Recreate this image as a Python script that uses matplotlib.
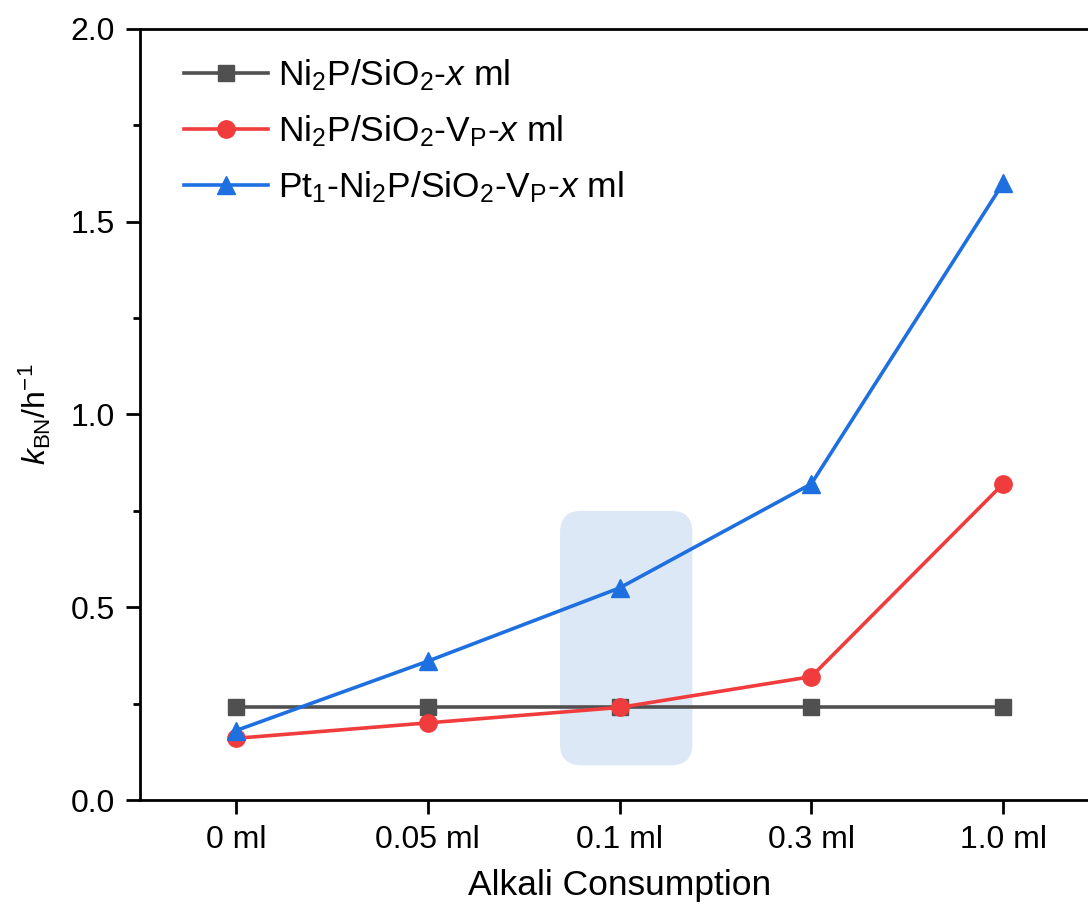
import numpy as np
import matplotlib
matplotlib.use('Agg')
import matplotlib.pyplot as plt
from matplotlib.patches import FancyBboxPatch
from matplotlib.ticker import MultipleLocator, FormatStrFormatter

# data
categories = ['0 ml', '0.05 ml', '0.1 ml', '0.3 ml', '1.0 ml']
k_ni2p = [0.24, 0.24, 0.24, 0.24, 0.24]
k_ni2p_vp = [0.16, 0.20, 0.24, 0.32, 0.82]
k_pt1_vp = [0.18, 0.36, 0.55, 0.82, 1.60]
labels = [r'Ni$_2$P/SiO$_2$-$x$ ml',
          r'Ni$_2$P/SiO$_2$-V$_\mathrm{P}$-$x$ ml',
          r'Pt$_1$-Ni$_2$P/SiO$_2$-V$_\mathrm{P}$-$x$ ml']

plt.rcParams['font.family'] = ['Liberation Sans', 'DejaVu Sans']
plt.rcParams['mathtext.fontset'] = 'custom'
plt.rcParams['mathtext.rm'] = 'Liberation Sans'
plt.rcParams['mathtext.it'] = 'Liberation Sans:italic'
plt.rcParams['mathtext.bf'] = 'Liberation Sans:bold'

fig = plt.figure(figsize=(10.88, 9.17), dpi=100)
ax = fig.add_axes([140 / 1088, 117 / 917, 959 / 1088, 771 / 917])

x = np.arange(len(categories))

# highlight box around 0.1 ml
box = FancyBboxPatch((1.69, 0.09), 0.69, 0.66,
                     boxstyle='round,pad=0,rounding_size=0.11',
                     mutation_aspect=0.5, facecolor='#dce8f5',
                     edgecolor='none', zorder=1)
ax.add_patch(box)

ax.plot(x, k_ni2p, color='#505050', marker='s', markersize=11, lw=2.6,
        label=labels[0], zorder=3)
ax.plot(x, k_ni2p_vp, color='#f03c3c', marker='o', markersize=12.5, lw=2.6,
        label=labels[1], zorder=4)
ax.plot(x, k_pt1_vp, color='#1e6fe0', marker='^', markersize=13.5, lw=2.6,
        label=labels[2], zorder=5)

ax.set_xlim(-0.5, 4.5)
ax.set_ylim(0, 2.0)
ax.set_xticks(x)
ax.set_xticklabels(categories)
ax.yaxis.set_major_locator(MultipleLocator(0.5))
ax.yaxis.set_minor_locator(MultipleLocator(0.25))
ax.yaxis.set_major_formatter(FormatStrFormatter('%.1f'))

for s in ax.spines.values():
    s.set_linewidth(2)
ax.spines['right'].set_visible(False)
ax.tick_params(axis='both', which='major', direction='out', length=10, width=2,
               labelsize=23, pad=8)
ax.tick_params(axis='y', which='minor', direction='out', length=5, width=2)
ax.tick_params(top=False, right=False)

ax.set_xlabel('Alkali Consumption', fontsize=25.5, labelpad=10)
ax.set_ylabel(r'$k_\mathrm{BN}$/h$^{-1}$', fontsize=23, labelpad=12.5)

ax.legend(loc='upper left', bbox_to_anchor=(0.046, 0.963), frameon=False,
          fontsize=25.5, handlelength=2.37, handletextpad=0.28, labelspacing=0.57,
          borderpad=0, borderaxespad=0)

fig.savefig('out.png', dpi=100)
